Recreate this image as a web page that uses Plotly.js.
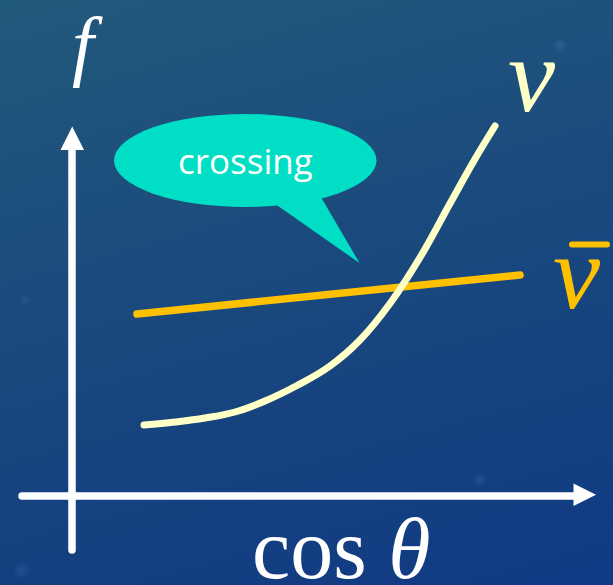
<!DOCTYPE html>
<html>
<head>
<meta charset="utf-8">
<script src="https://cdn.plot.ly/plotly-3.0.1.min.js"></script>
<style>
  html, body { margin: 0; padding: 0; }
  body {
    width: 613px; height: 585px; overflow: hidden;
    background:
      radial-gradient(circle at 560px 45px, rgba(90,150,200,0.25) 0, rgba(90,150,200,0) 8px),
      radial-gradient(circle at 25px 300px, rgba(90,150,200,0.18) 0, rgba(90,150,200,0) 6px),
      radial-gradient(circle at 480px 480px, rgba(90,150,200,0.18) 0, rgba(90,150,200,0) 8px),
      radial-gradient(circle at 22px 570px, rgba(90,150,200,0.2) 0, rgba(90,150,200,0) 9px),
      linear-gradient(165deg, #21597a 0%, #1c4d7d 35%, #16437f 65%, #103a84 100%);
  }
  #chart { width: 613px; height: 585px; }
  .js-line { stroke-linecap: round; }
  .shapelayer path { stroke-linecap: round; }
</style>
</head>
<body>
<div id="chart"></div>
<script>
// Angular distributions f(cos θ) for neutrinos and antineutrinos (schematic units)
const cosThetaNu = [1.44, 2.06, 2.66, 3.26, 3.86, 4.5, 5.16, 5.76, 6.36, 6.96, 7.56, 8.06, 8.46];
const fNu        = [1.42, 1.48, 1.56, 1.68, 1.9, 2.21, 2.6, 3.12, 3.85, 4.77, 5.85, 6.74, 7.4];

const cosThetaNuBar = [1.3, 8.96];
const fNuBar        = [3.64, 4.42];

const labelNu = 'ν';
const labelNuBar = 'ν';
const labelF = 'f';
const labelX = 'cos <i>θ</i>';
const bubbleText = 'crossing';

const cream = '#FFFFC8';
const gold = '#FFC000';
const teal = '#00DFC5';

const traces = [
  {
    x: cosThetaNuBar, y: fNuBar, mode: 'lines',
    line: { color: gold, width: 7.5 }, hoverinfo: 'skip', showlegend: false
  },
  {
    x: cosThetaNu, y: fNu, mode: 'lines',
    line: { color: cream, width: 7, shape: 'spline', smoothing: 1.2, simplify: false },
    hoverinfo: 'skip', showlegend: false
  }
];

const white = '#FFFFFF';
const shapes = [
  // vertical axis with arrowhead
  { type: 'line', xref: 'x', yref: 'y', x0: 0, y0: -1.08, x1: 0, y1: 7.0,
    line: { color: white, width: 7.5 }, layer: 'below' },
  { type: 'path', xref: 'x', yref: 'y', path: 'M -0.23,6.92 L 0.24,6.92 L 0.005,7.39 Z',
    fillcolor: white, line: { width: 0 }, layer: 'below' },
  // horizontal axis with arrowhead
  { type: 'line', xref: 'x', yref: 'y', x0: -1.0, y0: 0, x1: 10.1, y1: 0,
    line: { color: white, width: 7.5 }, layer: 'below' },
  { type: 'path', xref: 'x', yref: 'y', path: 'M 10.03,0.25 L 10.03,-0.2 L 10.48,0.025 Z',
    fillcolor: white, line: { width: 0 }, layer: 'below' },
  // speech bubble
  { type: 'path', xref: 'x', yref: 'y', path: 'M 3.75,6.06 L 4.85,6.2 L 5.75,4.66 Z',
    fillcolor: teal, line: { width: 0 }, layer: 'below' },
  { type: 'circle', xref: 'x', yref: 'y', x0: 0.84, y0: 5.78, x1: 6.09, y1: 7.64,
    fillcolor: teal, line: { width: 0 }, layer: 'below' },
  // bar over the antineutrino symbol
  { type: 'line', xref: 'x', yref: 'y', x0: 10.0, y0: 5.03, x1: 10.7, y1: 5.03,
    line: { color: gold, width: 6 } }
];

const serif = 'Liberation Serif, DejaVu Serif, serif';
const annotations = [
  { x: 3.46, y: 6.72, xref: 'x', yref: 'y', text: bubbleText, showarrow: false,
    xanchor: 'center', yanchor: 'middle',
    font: { family: 'Open Sans, sans-serif', size: 35, color: white } },
  { x: 0.31, y: 9.04, xref: 'x', yref: 'y', text: '<i>' + labelF + '</i>', showarrow: false,
    xanchor: 'center', yanchor: 'middle',
    font: { family: serif, size: 78, color: white } },
  { x: 9.2, y: 8.42, xref: 'x', yref: 'y', text: '<i>' + labelNu + '</i>', showarrow: false,
    xanchor: 'center', yanchor: 'middle',
    font: { family: serif, size: 106, color: cream } },
  { x: 10.1, y: 4.47, xref: 'x', yref: 'y', text: '<i>' + labelNuBar + '</i>', showarrow: false,
    xanchor: 'center', yanchor: 'middle',
    font: { family: serif, size: 106, color: gold } },
  { x: 5.38, y: -1.05, xref: 'x', yref: 'y', text: labelX, showarrow: false,
    xanchor: 'center', yanchor: 'middle',
    font: { family: serif, size: 86, color: white } }
];

const layout = {
  width: 613, height: 585,
  margin: { l: 0, r: 0, t: 0, b: 0, pad: 0 },
  paper_bgcolor: 'rgba(0,0,0,0)',
  plot_bgcolor: 'rgba(0,0,0,0)',
  xaxis: { range: [-1.44, 10.82], visible: false, fixedrange: true },
  yaxis: { range: [-1.78, 9.92], visible: false, fixedrange: true },
  shapes: shapes,
  annotations: annotations,
  showlegend: false
};

Plotly.newPlot('chart', traces, layout, { staticPlot: true, displayModeBar: false });
</script>
</body>
</html>
